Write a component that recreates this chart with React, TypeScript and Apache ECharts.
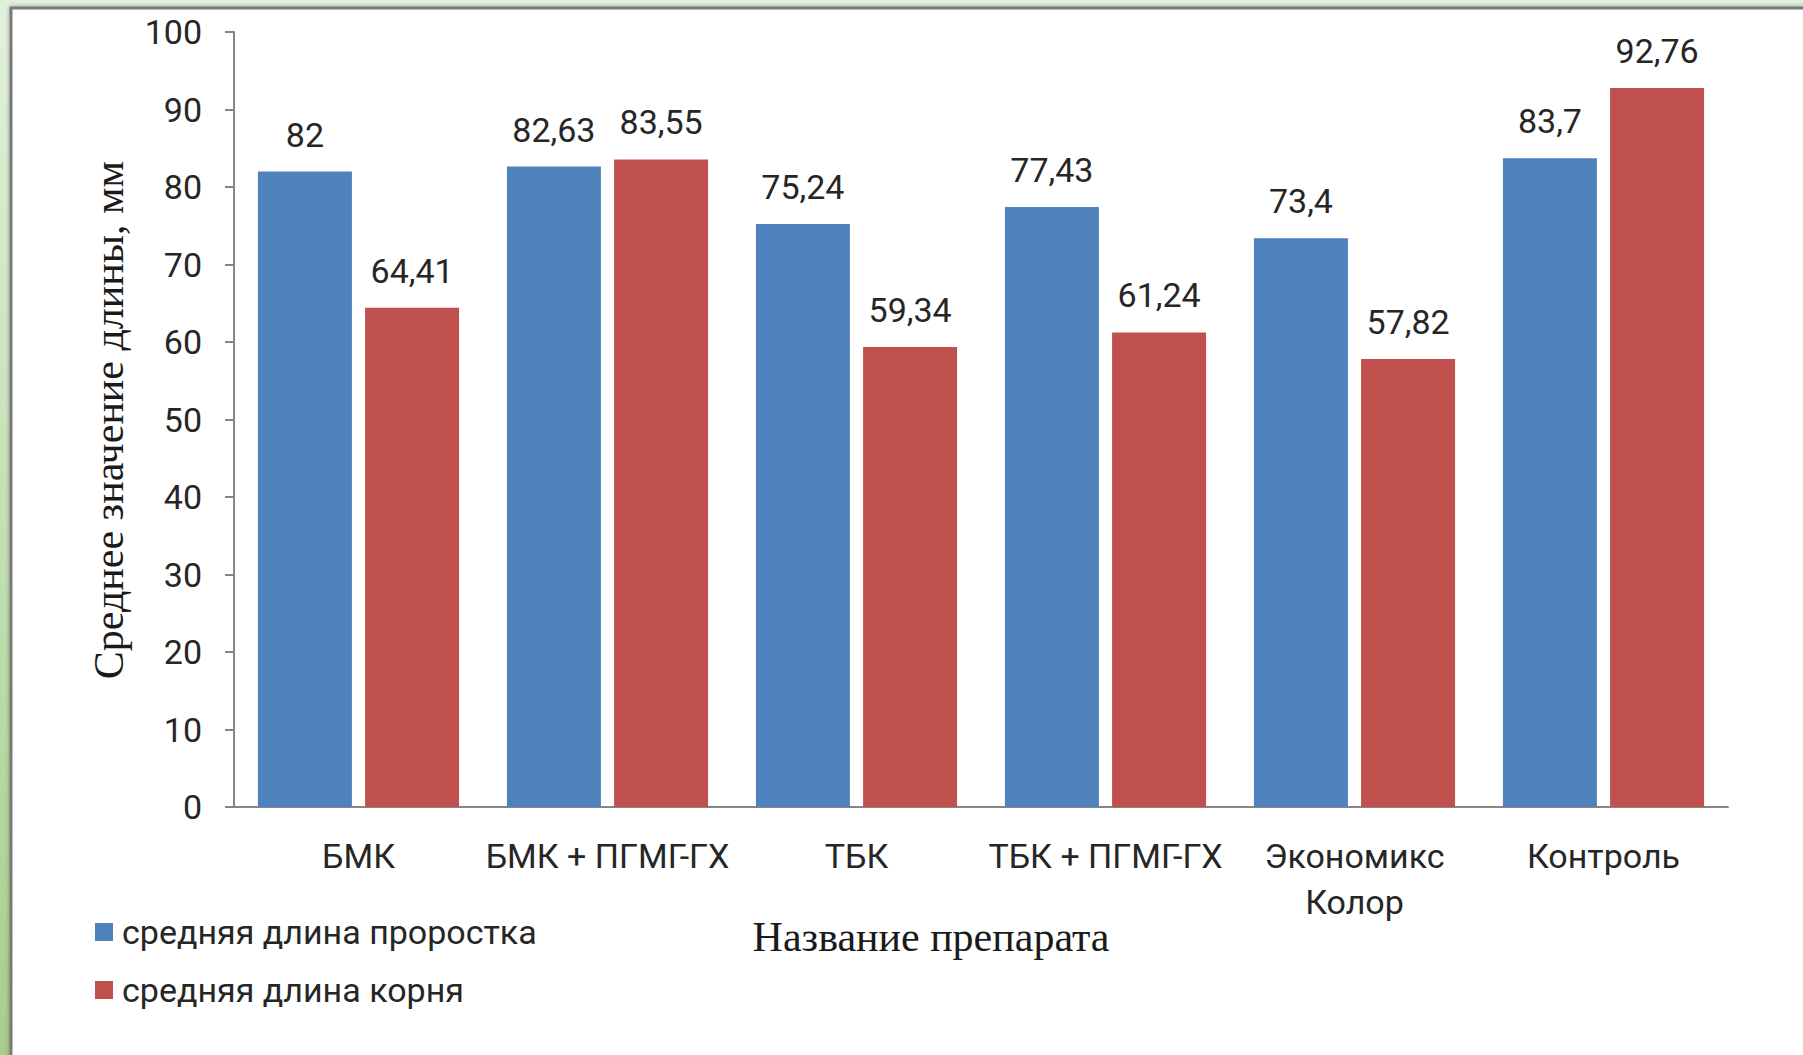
import React, { useEffect, useRef } from "react";
import * as echarts from "echarts";

const categories = ["БМК", "БМК + ПГМГ-ГХ", "ТБК", "ТБК + ПГМГ-ГХ", "Экономикс\nКолор", "Контроль"];
const sproutLength = [82, 82.63, 75.24, 77.43, 73.4, 83.7];
const rootLength = [64.41, 83.55, 59.34, 61.24, 57.82, 92.76];
const seriesNames = ["средняя длина проростка", "средняя длина корня"];
const yAxisTitle = "Среднее значение длины, мм";
const xAxisTitle = "Название препарата";

const W = 1803;
const H = 1055;
const SANS = "Roboto, 'Open Sans', sans-serif";
const SERIF = "'Liberation Serif', 'DejaVu Serif', serif";
const TEXT = "#262626";
const AXIS = "#868686";
const FS = 34;

const fmt = (p: any) => String(p.value).replace(".", ",");

export default function App() {
  const ref = useRef<HTMLDivElement>(null);
  useEffect(() => {
    document.body.style.margin = "0";
    const chart = echarts.init(ref.current!, null, { renderer: "svg", width: W, height: H });
    const option: any = {
      animation: false,
      backgroundColor: {
        type: "linear", x: 0, y: 0, x2: 0, y2: 1,
        colorStops: [
          { offset: 0, color: "#e2f1dc" },
          { offset: 1, color: "#a6cf8b" },
        ],
      },
      graphic: [
        {
          type: "rect",
          z: -10,
          shape: { x: 11, y: 8, width: W, height: H },
          style: { fill: "#ffffff", stroke: "#7a7a7a", lineWidth: 3, shadowBlur: 4, shadowColor: "rgba(0,0,0,0.35)" },
          silent: true,
        },
        {
          type: "text",
          x: 109, y: 420,
          rotation: Math.PI / 2,
          style: { text: yAxisTitle, font: `42px ${SERIF}`, fill: "#1a1a1a", align: "center", verticalAlign: "middle" },
        },
        {
          type: "text",
          x: 931, y: 937,
          style: { text: xAxisTitle, font: `42px ${SERIF}`, fill: "#1a1a1a", align: "center", verticalAlign: "middle" },
        },
      ],
      legend: {
        orient: "vertical",
        left: 90,
        top: 910,
        itemWidth: 18,
        itemHeight: 18,
        itemGap: 24,
        icon: "rect",
        textStyle: { fontFamily: SANS, fontSize: FS, color: TEXT, lineHeight: 34, padding: [0, 0, 0, 4] },
        data: seriesNames,
      },
      grid: { left: 234, right: 75, top: 32, bottom: 248 },
      xAxis: {
        type: "category",
        data: categories,
        axisLine: { lineStyle: { color: AXIS, width: 2 } },
        axisTick: { show: false },
        axisLabel: { fontFamily: SANS, fontSize: FS, color: TEXT, margin: 26, lineHeight: 46, interval: 0 },
      },
      yAxis: {
        type: "value",
        min: 0, max: 100, interval: 10,
        axisLine: { show: true, lineStyle: { color: AXIS, width: 2 } },
        axisTick: { show: true, length: 9, lineStyle: { color: AXIS, width: 2 } },
        splitLine: { show: false },
        axisLabel: { fontFamily: SANS, fontSize: FS, color: TEXT, margin: 32 },
      },
      series: [
        {
          name: seriesNames[0],
          type: "bar",
          data: sproutLength,
          barWidth: 94,
          barGap: "14%",
          itemStyle: { color: "#4f81bd" },
          label: { show: true, position: "top", distance: 20, formatter: fmt, fontFamily: SANS, fontSize: FS, color: TEXT },
        },
        {
          name: seriesNames[1],
          type: "bar",
          data: rootLength,
          barWidth: 94,
          barGap: "14%",
          itemStyle: { color: "#c0504d" },
          label: { show: true, position: "top", distance: 20, formatter: fmt, fontFamily: SANS, fontSize: FS, color: TEXT },
        },
      ],
    };
    chart.setOption(option);
    return () => chart.dispose();
  }, []);
  return <div ref={ref} style={{ position: "fixed", left: 0, top: 0, width: W, height: H }} />;
}
